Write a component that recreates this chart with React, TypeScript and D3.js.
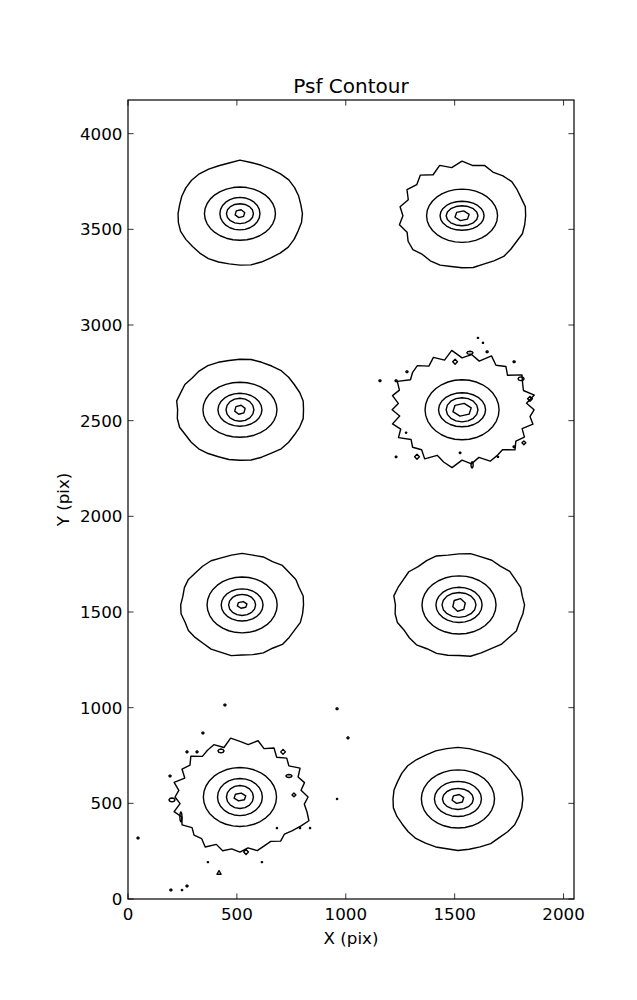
import React from "react";
import * as d3 from "d3";

const W = 637;
const H = 1000;
const M = { left: 128, right: 63, top: 100, bottom: 101 };

const title = "Psf Contour";
const xLabel = "X (pix)";
const yLabel = "Y (pix)";
const xDomain = [0, 2048];
const yDomain = [0, 4176];
const xTicks = [0, 500, 1000, 1500, 2000];
const yTicks = [0, 500, 1000, 1500, 2000, 2500, 3000, 3500, 4000];

// star centres (data units)
const starX = [514, 1534, 514, 1534, 524, 1520, 514, 1515];
const starY = [3582, 3571, 2557, 2557, 1537, 1537, 533, 523];

// contour level half-widths, outermost first
const ringRx = [
  [287, 163, 92, 62, 23],
  [292, 163, 101, 73, 34],
  [292, 170, 101, 64, 25],
  [321, 170, 108, 73, 44],
  [282, 161, 96, 62, 23],
  [298, 170, 106, 78, 30],
  [298, 168, 103, 62, 28],
  [298, 168, 108, 71, 28],
];
const ringRy = [
  [269, 139, 85, 52, 21],
  [272, 139, 76, 52, 26],
  [264, 144, 86, 60, 24],
  [277, 157, 89, 63, 34],
  [264, 146, 84, 55, 18],
  [267, 152, 92, 65, 34],
  [282, 154, 97, 60, 21],
  [267, 152, 92, 55, 24],
];

// outer contour radius factors, counter-clockwise from east
const outer0 = [1.0, 0.99, 1.0, 1.01, 1.02, 1.01, 1.0, 1.0, 1.01, 1.04, 1.0, 0.99, 1.0, 1.01, 1.01, 1.0, 0.99, 0.98, 0.99, 1.0, 1.01, 1.0, 0.99, 1.0, 1.01, 1.0, 0.99, 1.0, 1.01, 1.0, 0.99, 1.0, 1.01, 1.0, 0.99, 1.0];
const outer1 = [1.0, 1.01, 0.99, 1.0, 1.02, 1.0, 0.97, 1.03, 0.98, 1.05, 0.94, 1.03, 0.91, 1.02, 0.93, 1.0, 0.9, 0.99, 0.93, 1.0, 0.92, 0.98, 1.01, 0.97, 1.0, 1.01, 0.99, 1.0, 1.01, 0.99, 1.0, 1.02, 1.0, 0.99, 1.01, 1.0];
const outer2 = [1.0, 1.01, 1.0, 0.99, 1.0, 1.01, 1.0, 1.0, 1.01, 1.0, 0.99, 1.0, 1.01, 1.0, 0.98, 1.0, 0.99, 1.01, 0.98, 1.0, 1.01, 0.99, 1.0, 1.01, 1.0, 0.99, 1.0, 1.0, 1.01, 1.0, 0.99, 1.01, 1.0, 0.99, 1.0, 1.01];
const outer3 = [1.03, 0.93, 1.07, 0.95, 1.0, 1.08, 0.92, 1.03, 0.97, 1.1, 0.95, 1.05, 0.98, 1.13, 0.97, 1.07, 0.95, 1.05, 1.0, 0.93, 1.07, 0.97, 1.03, 0.92, 1.0, 0.9, 1.03, 0.95, 1.05, 0.92, 1.0, 0.95, 1.07, 0.93, 1.02, 1.1, 0.95, 1.03, 0.93, 1.05, 1.0, 0.95, 1.07, 0.97, 1.03, 0.93, 1.05, 0.98];
const outer4 = [1.0, 1.01, 0.99, 1.01, 1.0, 1.02, 0.99, 1.01, 1.0, 1.02, 1.0, 0.99, 1.01, 1.0, 0.99, 1.01, 1.0, 0.98, 1.0, 1.01, 0.99, 1.01, 1.0, 0.99, 1.01, 1.0, 1.02, 0.99, 1.0, 1.01, 0.99, 1.02, 1.0, 0.99, 1.01, 1.0];
const outer5 = [1.01, 0.99, 1.01, 1.0, 1.02, 0.99, 1.01, 1.0, 1.02, 1.0, 0.99, 1.02, 1.0, 0.98, 1.01, 0.99, 1.0, 1.02, 0.98, 1.0, 1.01, 0.98, 1.0, 1.02, 0.99, 1.01, 1.0, 0.99, 1.02, 1.0, 0.99, 1.01, 1.0, 1.02, 0.99, 1.0];
const outer6 = [1.05, 0.95, 1.03, 0.97, 1.07, 0.95, 1.02, 0.93, 1.05, 0.97, 1.08, 0.98, 1.03, 1.1, 0.95, 1.05, 1.0, 0.95, 1.07, 0.97, 1.03, 0.92, 1.05, 0.95, 1.0, 0.93, 1.05, 0.97, 1.03, 0.93, 1.0, 0.97, 1.07, 0.95, 1.03, 0.97, 1.02, 0.95, 1.03, 0.98, 0.95, 1.03, 0.97, 1.02, 1.08, 1.15, 1.07, 1.0];
const outer7 = [1.0, 1.0, 1.01, 0.99, 1.0, 1.01, 1.0, 0.99, 1.0, 1.01, 1.0, 1.0, 0.99, 1.0, 1.01, 1.0, 0.99, 1.0, 1.0, 1.01, 1.0, 0.99, 1.0, 1.01, 1.0, 1.0, 0.99, 1.01, 1.0, 1.0, 1.01, 0.99, 1.0, 1.01, 1.0, 1.0];
const outerShape = [outer0, outer1, outer2, outer3, outer4, outer5, outer6, outer7];

// isolated noise contours: x, y, rx, ry, sides
const islandX = [1607, 1630, 1281, 1157, 1231, 1502, 1570, 1649, 1773, 1805, 1846, 1818, 1773, 1327, 1231, 1525, 1580, 1699, 1277,
  445, 960, 1010, 344, 271, 317, 427, 712, 193, 739, 762, 202, 243, 960, 46, 684, 790, 836, 542, 367, 615, 418, 197, 248, 271];
const islandY = [2933, 2907, 2756, 2709, 2709, 2808, 2855, 2860, 2808, 2719, 2614, 2384, 2364, 2311, 2311, 2332, 2269, 2311, 2437,
  1014, 994, 842, 868, 769, 769, 774, 769, 643, 643, 544, 518, 429, 523, 319, 371, 371, 371, 246, 193, 193, 136, 47, 47, 68];
const islandRx = [3, 3, 5, 5, 5, 11, 14, 5, 5, 14, 11, 9, 5, 11, 4, 4, 5, 3, 3,
  5, 5, 5, 5, 5, 5, 14, 11, 5, 14, 9, 14, 5, 3, 5, 3, 3, 3, 11, 3, 3, 11, 5, 3, 5];
const islandRy = [3, 3, 5, 5, 5, 13, 8, 5, 5, 10, 13, 10, 5, 13, 4, 4, 16, 3, 3,
  5, 5, 5, 5, 5, 5, 10, 13, 5, 8, 10, 10, 26, 3, 5, 3, 3, 3, 13, 3, 3, 13, 5, 3, 5];
const islandSides = [6, 6, 6, 6, 6, 4, 8, 6, 6, 8, 4, 4, 6, 4, 6, 6, 8, 6, 6,
  6, 6, 6, 6, 6, 6, 8, 4, 6, 8, 4, 8, 8, 6, 6, 6, 6, 6, 4, 6, 6, 3, 6, 6, 6];

const levelPoints = [0, 32, 24, 16, 6];

export default function App() {
  const x = d3.scaleLinear().domain(xDomain).range([M.left, W - M.right]);
  const y = d3.scaleLinear().domain(yDomain).range([H - M.bottom, M.top]);
  const line = d3.line<[number, number]>().curve(d3.curveLinearClosed);

  const ring = (cx: number, cy: number, rx: number, ry: number, factors: number[] | null, n: number, rot = 0) => {
    const count = factors ? factors.length : n;
    const pts: [number, number][] = [];
    for (let i = 0; i < count; i++) {
      const a = (2 * Math.PI * i) / count + rot;
      const m = factors ? factors[i] : 1;
      pts.push([x(cx + rx * m * Math.cos(a)), y(cy + ry * m * Math.sin(a))]);
    }
    return line(pts) || "";
  };

  const paths: string[] = [];
  starX.forEach((sx, s) => {
    ringRx[s].forEach((rx, l) => {
      const ry = ringRy[s][l];
      if (l === 0) paths.push(ring(sx, starY[s], rx, ry, outerShape[s], 0));
      else paths.push(ring(sx, starY[s], rx, ry, null, levelPoints[l], l === 4 ? 0.3 : 0));
    });
  });
  islandX.forEach((ix, i) => {
    paths.push(ring(ix, islandY[i], islandRx[i], islandRy[i], null, islandSides[i], islandSides[i] === 3 ? Math.PI / 2 : 0));
  });

  const font = "DejaVu Sans, sans-serif";
  const x0 = M.left, x1 = W - M.right, y0 = M.top, y1 = H - M.bottom;
  const tl = 5.6;

  return (
    <svg width={W} height={H} style={{ position: "absolute", left: 0, top: 0, background: "#fff" }}>
      <rect x={0} y={0} width={W} height={H} fill="#fff" />
      <g fill="none" stroke="#000" strokeWidth={1.4} strokeLinejoin="round">
        {paths.map((d, i) => (
          <path key={i} d={d} />
        ))}
      </g>
      <g stroke="#000" strokeWidth={0.8}>
        {xTicks.map((t) => (
          <g key={"xt" + t}>
            <line x1={x(t)} x2={x(t)} y1={y1} y2={y1 - tl} />
            <line x1={x(t)} x2={x(t)} y1={y0} y2={y0 + tl} />
          </g>
        ))}
        {yTicks.map((t) => (
          <g key={"yt" + t}>
            <line x1={x0} x2={x0 + tl} y1={y(t)} y2={y(t)} />
            <line x1={x1} x2={x1 - tl} y1={y(t)} y2={y(t)} />
          </g>
        ))}
      </g>
      <rect x={x0} y={y0} width={x1 - x0} height={y1 - y0} fill="none" stroke="#000" strokeWidth={1.2} />
      <g fontFamily={font} fontSize={16.7} fill="#000">
        {xTicks.map((t) => (
          <text key={"xl" + t} x={x(t)} y={y1 + 21} textAnchor="middle">{t}</text>
        ))}
        {yTicks.map((t) => (
          <text key={"yl" + t} x={x0 - 5.6} y={y(t) + 6} textAnchor="end">{t}</text>
        ))}
        <text x={(x0 + x1) / 2} y={944} textAnchor="middle">{xLabel}</text>
        <text transform={`translate(69,${(y0 + y1) / 2}) rotate(-90)`} textAnchor="middle">{yLabel}</text>
      </g>
      <text x={(x0 + x1) / 2} y={y0 - 7} textAnchor="middle" fontFamily={font} fontSize={20}>{title}</text>
    </svg>
  );
}
